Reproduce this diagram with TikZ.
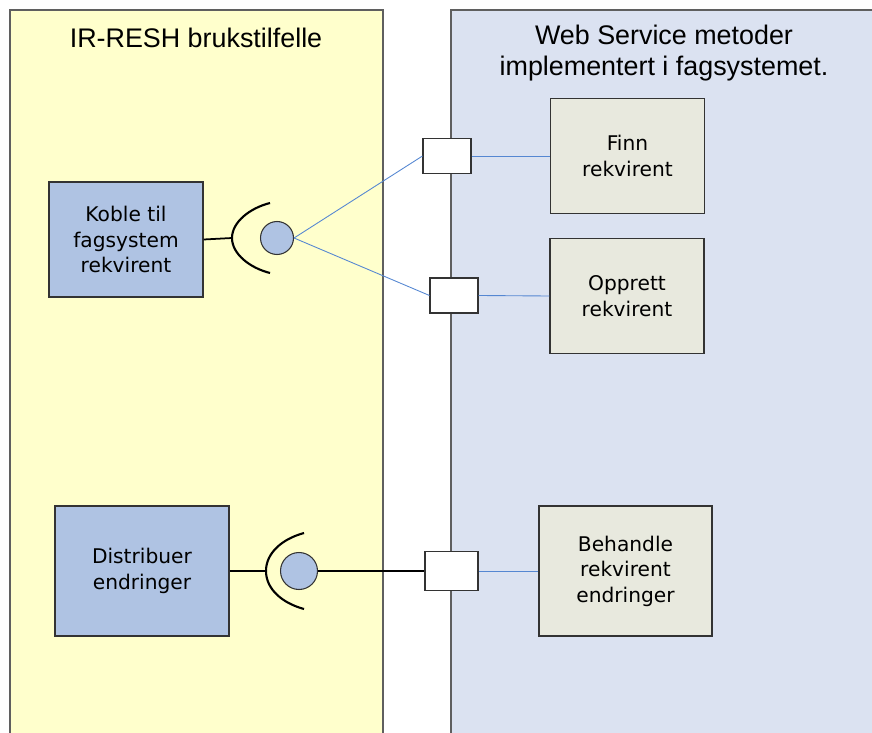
\documentclass[tikz,border=0pt]{standalone}
\usepackage{fontspec}
\setmainfont{Liberation Sans}
\newfontfamily\boxfont{DejaVu Sans}
\usetikzlibrary{positioning,calc}

\definecolor{usecase}{RGB}{255,255,204}
\definecolor{service}{RGB}{219,226,241}
\definecolor{compblue}{RGB}{175,195,227}
\definecolor{compgrey}{RGB}{232,233,222}
\definecolor{wire}{RGB}{85,135,210}
\definecolor{frame}{RGB}{95,95,95}

\tikzset{
    comp/.style={draw=black!80, line width=0.7pt, minimum width=3.08cm, minimum height=2.3cm,
        align=center, font=\boxfont\fontsize{11.5}{14.5}\selectfont},
    port/.style={draw=black!80, line width=0.6pt, fill=white, minimum width=0.96cm, minimum height=0.7cm},
    ball/.style={circle, draw=black!80, line width=0.6pt, fill=compblue, minimum size=0.66cm, inner sep=0pt},
    title/.style={align=center, font=\fontsize{15.3}{18}\selectfont},
    wireline/.style={draw=wire, line width=0.5pt},
    solid wire/.style={draw=black, line width=1pt},
    socket/.style={draw=black, line width=1.2pt}
}

\begin{document}
\begin{tikzpicture}[x=0.02cm, y=-0.02cm]
\clip (0,0) rectangle (872,733);

% the two panels
\draw [frame, fill=usecase, line width=0.8pt] (10,10) rectangle (383,760);
\draw [frame, fill=service, line width=0.8pt] (451,10) rectangle (900,760);

\node (t1) [title] at (196,38) {IR-RESH brukstilfelle};
\node (t2) [title] at (664,53) {Web Service metoder\\implementert i fagsystemet.};

% components on the left
\node (koble) [comp, fill=compblue] at (126,239.5) {Koble til\\fagsystem\\rekvirent};
\node (dist) [comp, fill=compblue, minimum width=3.48cm, minimum height=2.6cm] at (142,571) {Distribuer\\endringer};

% web service methods
\node (finn) [comp, fill=compgrey] at (627.5,156) {Finn\\rekvirent};
\node (oppr) [comp, fill=compgrey] at (627,296) {Opprett\\rekvirent};
\node (beh) [comp, fill=compgrey, minimum width=3.46cm, minimum height=2.6cm] at (625.5,571) {Behandle\\rekvirent\\endringer};

% ports
\node (p1) [port] at (447,156) {};
\node (p2) [port] at (454,295.5) {};
\node (p3) [port, minimum width=1.06cm, minimum height=0.78cm] at (451.5,571) {};

% required interfaces
\node (c1) [ball] at (277,238) {};
\node (c2) [ball, minimum size=0.74cm] at (299,571) {};

\coordinate (s1) at (232,238);
\coordinate (s2) at (266,571);

\draw [socket] (270,203) .. controls (250,208) and (232,222) .. (s1)
    .. controls (232,254) and (250,268) .. (270,273);
\draw [socket] (304,533) .. controls (282,539) and (266,553) .. (s2)
    .. controls (266,589) and (282,603) .. (304,609);

\draw [solid wire] (koble.east) -- (s1);
\draw [solid wire] (dist.east) -- (s2);
\draw [solid wire] (c2.east) -- (p3.west);

\draw [wireline] (c1.east) -- (p1.west);
\draw [wireline] (c1.east) -- (p2.west);
\draw [wireline] (p1.east) -- (finn.west);
\draw [wireline] (p2.east) -- (oppr.west);
\draw [wireline] (p3.east) -- (beh.west);

\end{tikzpicture}
\end{document}
